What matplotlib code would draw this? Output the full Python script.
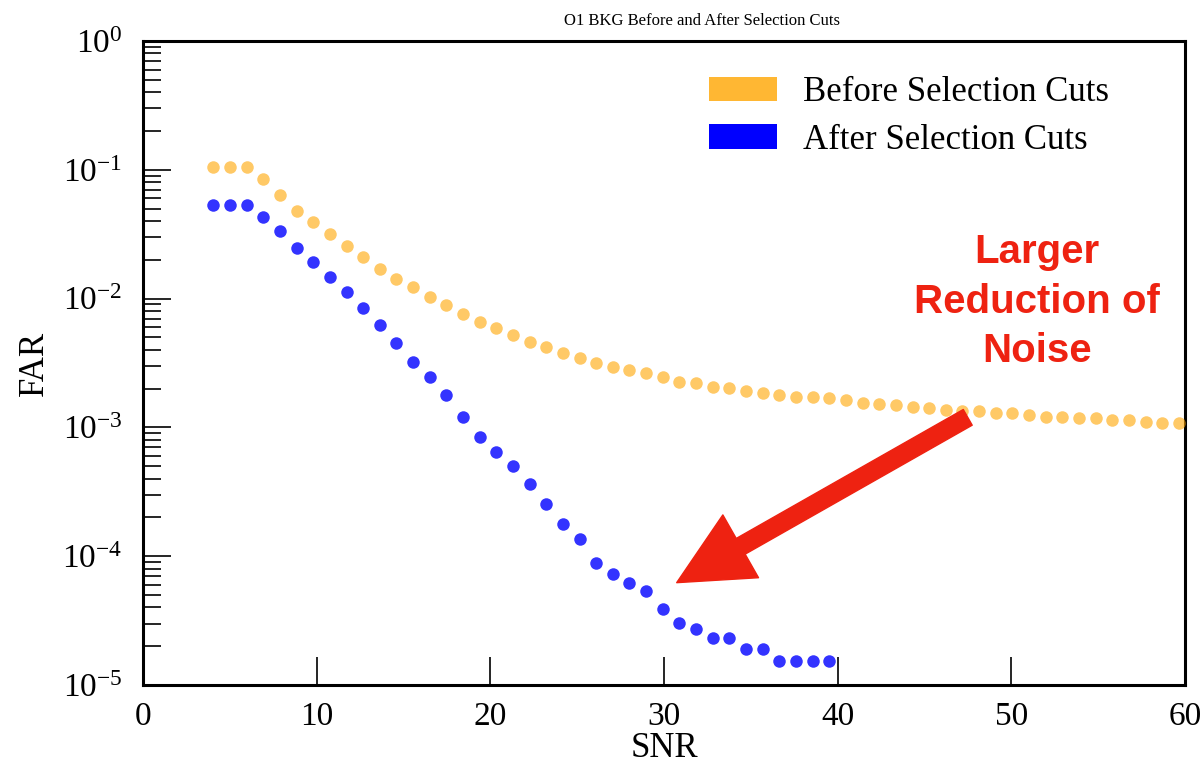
import matplotlib
matplotlib.use("Agg")
import matplotlib.pyplot as plt
from matplotlib.patches import Patch, FancyArrowPatch
from matplotlib.ticker import LogLocator, NullFormatter, FixedLocator

# SNR sample positions (bin centres)
snr = [4.05, 5.01, 5.97, 6.93, 7.88, 8.84, 9.80, 10.76, 11.72, 12.68,
       13.64, 14.59, 15.55, 16.51, 17.47, 18.43, 19.39, 20.34, 21.30, 22.26,
       23.22, 24.18, 25.14, 26.10, 27.05, 28.01, 28.97, 29.93, 30.89, 31.85,
       32.81, 33.76, 34.72, 35.68, 36.64, 37.60, 38.56, 39.51, 40.47, 41.43,
       42.39, 43.35, 44.31, 45.27, 46.22, 47.18, 48.14, 49.10, 50.06, 51.02,
       51.98, 52.93, 53.89, 54.85, 55.81, 56.77, 57.73, 58.69, 59.64]

# False alarm rate before selection cuts
far_before = [0.106, 0.106, 0.106, 0.0851, 0.0632, 0.0483, 0.0395, 0.0320, 0.0258, 0.0211,
              0.0171, 0.0143, 0.01234, 0.01032, 0.00889, 0.00765, 0.00660, 0.00587, 0.00523, 0.00464,
              0.00424, 0.00377, 0.00345, 0.00315, 0.00297, 0.00280, 0.00264, 0.00248, 0.00227, 0.00220,
              0.00207, 0.00202, 0.00190, 0.00184, 0.00179, 0.00173, 0.00173, 0.00169, 0.00164, 0.00156,
              0.00151, 0.00150, 0.00145, 0.00141, 0.00137, 0.00135, 0.00133, 0.00129, 0.00129, 0.00125,
              0.00121, 0.00121, 0.00118, 0.00118, 0.00114, 0.00114, 0.00111, 0.00109, 0.00109]

# False alarm rate after selection cuts
far_after = [0.0535, 0.0535, 0.0535, 0.0429, 0.0332, 0.0246, 0.0194, 0.0148, 0.01134, 0.00843,
             0.00625, 0.00451, 0.00324, 0.00248, 0.00179, 0.00121, 0.000848, 0.000649, 0.000502, 0.000362,
             0.000253, 0.000177, 0.000135, 8.91e-5, 7.24e-5, 6.23e-5, 5.37e-5, 3.87e-5, 3.05e-5, 2.71e-5,
             2.33e-5, 2.33e-5, 1.89e-5, 1.89e-5, 1.54e-5, 1.54e-5, 1.54e-5, 1.54e-5]

series_labels = ["Before Selection Cuts", "After Selection Cuts"]
x_ticks = [0, 10, 20, 30, 40, 50, 60]

# Arrow annotation endpoints (SNR, FAR)
arrow_tail = (47.49, 1.197e-3)
arrow_head = (30.73, 6.23e-5)

plt.rcParams["font.family"] = ["Liberation Serif", "DejaVu Serif"]
plt.rcParams["mathtext.fontset"] = "stix"

W, H = 1203, 767
fig = plt.figure(figsize=(W / 100, H / 100), dpi=100)
ax = fig.add_axes([143 / W, 1 - 685 / H, (1185 - 143) / W, (685 - 41) / H])

orange = "#FFA500"
blue = "#0000FF"
red = "#EE2211"

ax.plot(snr[:len(far_before)], far_before, "o", ls="", color=orange, alpha=0.6,
        ms=9, mew=0, zorder=3)
ax.plot(snr[:len(far_after)], far_after, "o", ls="", color=blue, alpha=0.8,
        ms=9, mew=0, zorder=3)

ax.set_yscale("log")
ax.set_xlim(0, 60)
ax.set_ylim(1e-5, 1)
ax.xaxis.set_major_locator(FixedLocator(x_ticks))
ax.yaxis.set_major_locator(LogLocator(base=10, numticks=10))
ax.yaxis.set_minor_locator(LogLocator(base=10, subs=range(2, 10), numticks=20))
ax.yaxis.set_minor_formatter(NullFormatter())

ax.tick_params(axis="both", which="major", direction="in", length=20, width=1.2,
               labelsize=24, top=False, right=False, color="black")
ax.tick_params(axis="x", which="major", pad=12)
ax.tick_params(axis="y", which="major", pad=15)
ax.tick_params(axis="y", which="minor", direction="in", length=13, width=1.2,
               right=False)
ax.tick_params(axis="x", which="minor", bottom=False)

for sp in ax.spines.values():
    sp.set_linewidth(2.2)

ax.set_xlabel("SNR", fontsize=25, labelpad=0)
ax.set_ylabel("FAR", fontsize=25, labelpad=8)
fig.text(702 / W, 1 - 21 / H, "O1 BKG Before and After Selection Cuts",
         ha="center", va="center", fontsize=12)

handles = [Patch(facecolor=orange, alpha=0.8, edgecolor="none", label=series_labels[0]),
           Patch(facecolor=blue, edgecolor="none", label=series_labels[1])]
fig.legend(handles=handles, loc="upper left", bbox_to_anchor=(709 / W, 1 - 76 / H),
           frameon=False, fontsize=25, borderpad=0, borderaxespad=0,
           handlelength=1.96, handleheight=0.7, handletextpad=0.75, labelspacing=0.42)

arrow = FancyArrowPatch(posA=arrow_tail, posB=arrow_head,
                        arrowstyle="simple,head_length=53,head_width=52,tail_width=13",
                        mutation_scale=1, shrinkA=0, shrinkB=0, color=red,
                        transform=ax.transData, zorder=5, clip_on=False)
ax.add_patch(arrow)

note_lines = [("Larger", 263), ("Reduction of", 313), ("Noise", 362)]
for txt, py in note_lines:
    fig.text(1037 / W, 1 - py / H, txt, ha="center", va="baseline", fontsize=29,
             fontweight="bold", color=red, family=["Liberation Sans", "DejaVu Sans"])

fig.savefig("out.png", dpi=100)
